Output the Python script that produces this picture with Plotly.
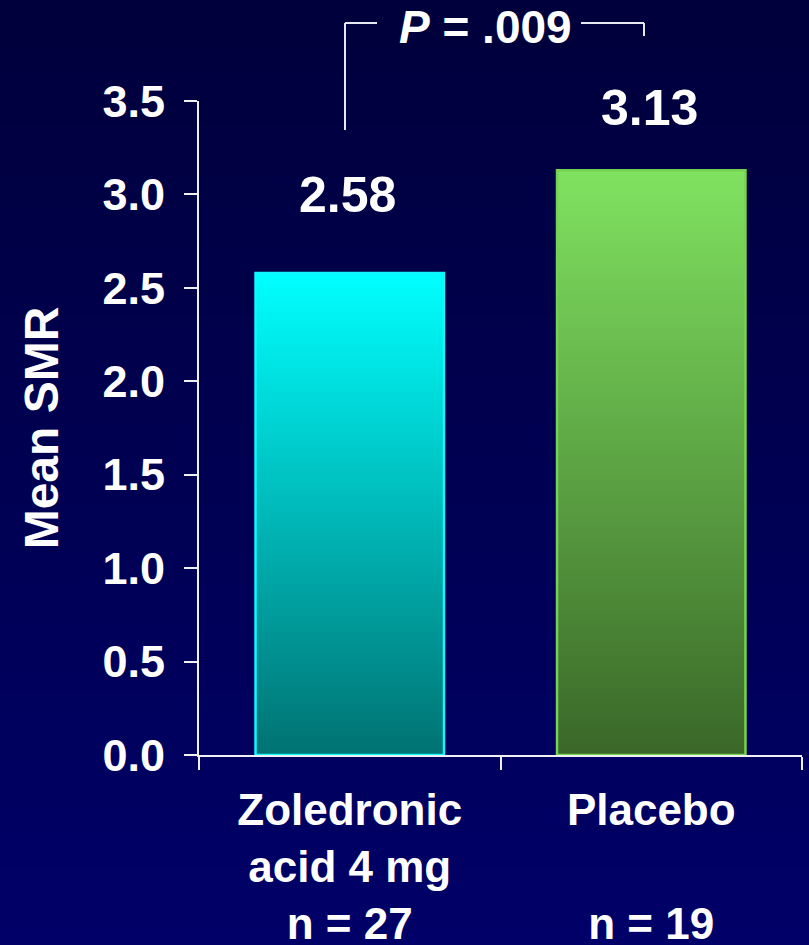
import plotly.graph_objects as go

# Data
categories = ["Zoledronic<br>acid 4 mg<br>n = 27", "Placebo<br> <br>n = 19"]
mean_smr = [2.58, 3.13]
value_labels = ["2.58", "3.13"]
y_ticks = [0.0, 0.5, 1.0, 1.5, 2.0, 2.5, 3.0, 3.5]
p_label = "<i>P</i> = .009"

# Styling
bar_top_colors = ["#00FFFF", "#80E260"]
bar_bottom_colors = ["#007272", "#3A6728"]
bar_edge_colors = ["#10F8FF", "#74D452"]
label_yshift = [78, 62]
bar_width = 0.625
font_family = "Liberation Sans, Arial, sans-serif"
W, H = 809, 945
M_L, M_R, M_T, M_B = 199, 7, 101, 190
plot_h = H - M_T - M_B

fig = go.Figure()

# Gradient fills for the bars (drawn on a hidden linear x axis aligned with the category axis)
for i, v in enumerate(mean_smr):
    x0, x1 = i - bar_width / 2, i + bar_width / 2
    fig.add_trace(go.Scatter(
        x=[x0, x0, x1, x1, x0], y=[0, v, v, 0, 0],
        mode="lines", line=dict(width=0), fill="toself",
        fillgradient=dict(type="vertical", start=0, stop=v,
                          colorscale=[[0, bar_bottom_colors[i]], [1, bar_top_colors[i]]]),
        hoverinfo="skip", showlegend=False, xaxis="x", yaxis="y",
    ))

# Bar outlines on the visible category axis
fig.add_trace(go.Bar(
    x=categories, y=mean_smr, width=bar_width,
    marker=dict(color="rgba(0,0,0,0)", line=dict(color=bar_edge_colors, width=2.5)),
    showlegend=False, hoverinfo="skip", xaxis="x2", yaxis="y",
))

# Value labels above the bars
for i, (v, t) in enumerate(zip(mean_smr, value_labels)):
    fig.add_annotation(x=i, y=v, xref="x", yref="y", text=t, showarrow=False,
                       yshift=label_yshift[i], xshift=-2,
                       font=dict(family=font_family, size=50, color="white", weight="bold"))

# Vertical background gradient
n_bands = 60
top_rgb, bot_rgb = (0, 0, 60), (0, 0, 104)
py_top = 1 + M_T / plot_h
py_bot = -M_B / plot_h
for k in range(n_bands):
    f = k / (n_bands - 1)
    c = tuple(round(top_rgb[j] + (bot_rgb[j] - top_rgb[j]) * f) for j in range(3))
    y1 = py_top - (py_top - py_bot) * k / n_bands
    y0 = py_top - (py_top - py_bot) * (k + 1) / n_bands
    if k == n_bands - 1:
        y0 -= 0.05
    fig.add_shape(type="rect", xref="paper", yref="paper", x0=-1, x1=2, y0=y0 - 0.002, y1=y1,
                  line=dict(width=0), fillcolor="rgb(%d,%d,%d)" % c, layer="below")

# Significance bracket
def px_x(px):
    return (px - M_L) / (W - M_L - M_R)

def px_y(px):
    return (H - M_B - px) / plot_h

bracket = dict(color="#E8E8F0", width=2)
fig.add_shape(type="line", xref="paper", yref="paper",
              x0=px_x(345), x1=px_x(345), y0=px_y(130), y1=px_y(23), line=bracket)
fig.add_shape(type="line", xref="paper", yref="paper",
              x0=px_x(345), x1=px_x(377), y0=px_y(23), y1=px_y(23), line=bracket)
fig.add_shape(type="line", xref="paper", yref="paper",
              x0=px_x(581), x1=px_x(644), y0=px_y(23), y1=px_y(23), line=bracket)
fig.add_shape(type="line", xref="paper", yref="paper",
              x0=px_x(644), x1=px_x(644), y0=px_y(23), y1=px_y(36), line=bracket)
fig.add_annotation(xref="paper", yref="paper", x=px_x(485), y=px_y(27),
                   text=p_label, showarrow=False, xanchor="center", yanchor="middle",
                   font=dict(family=font_family, size=46, color="white", weight="bold"))

axis_color = "#F0F0F0"
fig.update_layout(
    width=W, height=H,
    margin=dict(l=M_L, r=M_R, t=M_T, b=M_B, autoexpand=False),
    paper_bgcolor="#000068", plot_bgcolor="rgba(0,0,0,0)",
    font=dict(family=font_family, color="white", weight="bold"),
    bargap=0.375,
    xaxis=dict(range=[-0.5, 1.5], visible=False, fixedrange=True, automargin=False),
    xaxis2=dict(
        overlaying="x", side="bottom", anchor="y", range=[-0.5, 1.5], automargin=False,
        type="category", tickson="boundaries", ticks="outside", ticklen=13, tickwidth=2,
        tickcolor=axis_color, showline=True, linecolor=axis_color, linewidth=2,
        showgrid=False, zeroline=False, ticklabelstandoff=15,
        tickfont=dict(family=font_family, size=44, color="white", weight="bold"),
    ),
    yaxis=dict(
        range=[0, 3.5], tickvals=y_ticks, ticktext=["%.1f" % t for t in y_ticks],
        automargin=False,
        ticks="outside", ticklen=13, tickwidth=2, tickcolor=axis_color,
        showline=True, linecolor=axis_color, linewidth=2, showgrid=False, zeroline=False,
        ticklabelstandoff=10,
        tickfont=dict(family=font_family, size=45, color="white", weight="bold"),
        title=dict(text="Mean SMR", standoff=29,
                   font=dict(family=font_family, size=48, color="white", weight="bold")),
    ),
)

fig.write_html("out.html")
